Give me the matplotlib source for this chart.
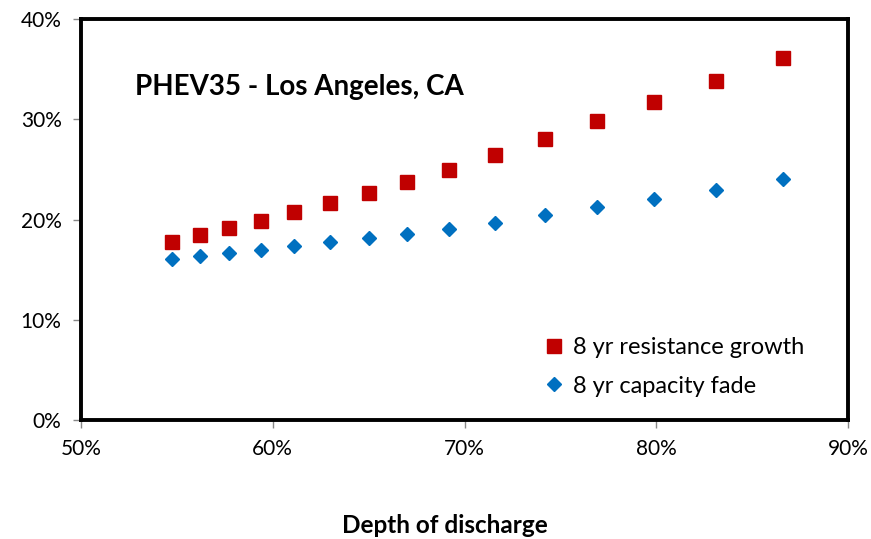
import matplotlib

matplotlib.use("Agg")
import matplotlib.pyplot as plt
from matplotlib.ticker import FuncFormatter

# depth of discharge (%) and 8-year degradation (%)
dod = [54.75, 56.2, 57.7, 59.4, 61.1, 63.0, 65.0, 67.0, 69.2, 71.6, 74.2, 76.9, 79.9, 83.1, 86.6]
resistance_growth = [17.8, 18.5, 19.2, 19.9, 20.7, 21.6, 22.6, 23.7, 24.9, 26.4, 28.0, 29.8, 31.7, 33.8, 36.1]
capacity_fade = [16.1, 16.4, 16.7, 17.0, 17.4, 17.8, 18.2, 18.6, 19.1, 19.7, 20.4, 21.2, 22.0, 22.9, 24.0]

x_ticks = [50, 60, 70, 80, 90]
y_ticks = [0, 10, 20, 30, 40]

plt.rcParams["font.family"] = ["Lato", "DejaVu Sans"]

fig = plt.figure(figsize=(8.71, 5.39), dpi=100)
ax = fig.add_axes([81 / 871, 1 - 420 / 539, 767 / 871, 401 / 539])

ax.plot(dod, resistance_growth, linestyle="none", marker="s", ms=10.5,
        color="#C00000", mec="#C00000", label="8 yr resistance growth")
ax.plot(dod, capacity_fade, linestyle="none", marker="D", ms=7,
        color="#0070C0", mec="#0070C0", label="8 yr capacity fade")

ax.set_xlim(50, 90)
ax.set_ylim(0, 40)
ax.set_xticks(x_ticks)
ax.set_yticks(y_ticks)
pct = FuncFormatter(lambda v, _: f"{v:.0f}%")
ax.xaxis.set_major_formatter(pct)
ax.yaxis.set_major_formatter(pct)
ax.tick_params(direction="out", length=6, width=1, color="#888888",
               labelsize=15, pad=8)

for side in ax.spines.values():
    side.set_color("black")
    side.set_linewidth(2.8)

ax.text(0.07, 0.81, "PHEV35 - Los Angeles, CA", transform=ax.transAxes,
        fontsize=20, fontweight="bold")

ax.set_xlabel("Depth of discharge", fontsize=17.5, fontweight="bold")
ax.xaxis.set_label_coords(0.475, -0.235)

ax.legend(loc="lower right", bbox_to_anchor=(0.955, 0.035), frameon=False,
          fontsize=17, handletextpad=-0.2, labelspacing=0.75, borderaxespad=0)

fig.savefig("out.png", dpi=100)
